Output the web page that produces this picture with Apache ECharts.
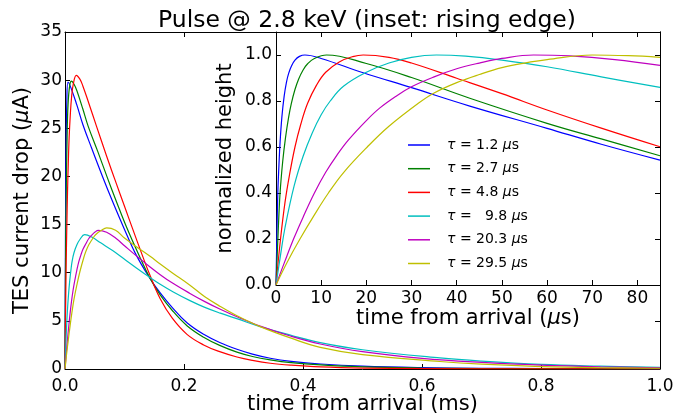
<!DOCTYPE html>
<html>
<head>
<meta charset="utf-8">
<script src="https://cdn.jsdelivr.net/npm/echarts@6/dist/echarts.min.js"></script>
<style>
  html, body { margin: 0; padding: 0; background: #fff; }
  #chart { width: 679px; height: 413px; }
</style>
</head>
<body>
<div id="chart"></div>
<script>
(function () {
  "use strict";

  // Series labels and matplotlib "classic" colours.
  var NAMES = ["τ = 1.2 μs", "τ = 2.7 μs", "τ = 4.8 μs", "τ =   9.8 μs", "τ = 20.3 μs", "τ = 29.5 μs"];
  var COLORS = ["#0000ff", "#008000", "#ff0000", "#00bfbf", "#bf00bf", "#bfbf00"];

  // Main panel: [time (ms), TES current drop (uA)].
  var mainBlue = [[0,0],[0.001,16.5],[0.002,24],[0.003,27.5],[0.005,29.8],[0.01,29.2],[0.02,27.4],[0.03,25.4],
    [0.045,22.9],[0.063,20],[0.08,17.4],[0.1,14.5],[0.12,11.8],[0.143,9.4],[0.16,7.9],[0.18,6.4],[0.205,4.8],
    [0.233,3.6],[0.26,2.75],[0.289,2.05],[0.315,1.55],[0.345,1.12],[0.38,0.8],[0.43,0.52],[0.5,0.3],[0.6,0.15],
    [0.7,0.08],[0.8,0.05],[0.9,0.03],[1.0,0.02]];
  var mainGreen = [[0,0],[0.001,12],[0.002,18],[0.0035,24],[0.005,27.3],[0.008,29.5],[0.011,29.9],[0.015,29.6],
    [0.02,28.9],[0.03,27.0],[0.039,25.2],[0.055,22.6],[0.071,19.9],[0.087,17.3],[0.103,14.8],[0.123,12.0],
    [0.143,9.4],[0.16,7.7],[0.18,6.1],[0.205,4.5],[0.233,3.3],[0.26,2.45],[0.289,1.75],[0.315,1.3],
    [0.345,0.95],[0.38,0.66],[0.43,0.42],[0.5,0.22],[0.6,0.1],[0.7,0.05],[0.8,0.03],[1.0,0.01]];
  var mainRed = [[0,0],[0.001,6.1],[0.002,11],[0.003,14.6],[0.0042,18.3],[0.0055,21.3],[0.007,24.1],[0.009,26.5],
    [0.011,28.2],[0.014,29.6],[0.019,30.5],[0.025,30.1],[0.03,29.4],[0.04,27.6],[0.053,25.2],[0.07,22.1],
    [0.086,19.3],[0.1,16.9],[0.114,14.5],[0.13,11.8],[0.143,9.7],[0.16,7.3],[0.18,5.3],[0.205,3.6],
    [0.233,2.5],[0.26,1.8],[0.289,1.25],[0.315,0.9],[0.345,0.6],[0.38,0.4],[0.43,0.22],[0.5,0.1],
    [0.6,0.04],[0.8,0.01],[1.0,0]];
  var mainCyan = [[0,0],[0.001,1.8],[0.002,3.5],[0.004,6.0],[0.006,7.8],[0.008,9.2],[0.01,10.3],[0.012,11.2],
    [0.015,12.05],[0.02,12.9],[0.025,13.45],[0.033,13.95],[0.045,13.7],[0.06,13.1],[0.08,12.3],[0.1,11.4],
    [0.12,10.5],[0.143,9.5],[0.16,8.8],[0.182,8.0],[0.21,7.1],[0.235,6.4],[0.261,5.8],[0.29,5.2],[0.328,4.4],
    [0.38,3.5],[0.429,2.74],[0.5,2.0],[0.63,1.15],[0.7,0.82],[0.8,0.48],[0.9,0.3],[1.0,0.17]];
  var mainMagenta = [[0,0],[0.002,1.5],[0.004,2.95],[0.006,4.25],[0.0085,5.75],[0.011,7.05],[0.0135,8.15],
    [0.016,9.05],[0.02,10.3],[0.023,11.1],[0.0265,11.8],[0.03,12.4],[0.035,13.0],[0.04,13.55],[0.045,13.9],
    [0.05,14.2],[0.056,14.4],[0.07,14.2],[0.085,13.6],[0.1,12.8],[0.12,11.75],[0.143,10.6],[0.16,9.8],
    [0.18,8.95],[0.21,7.85],[0.235,7.0],[0.261,6.2],[0.29,5.4],[0.328,4.45],[0.38,3.4],[0.429,2.6],
    [0.5,1.8],[0.6,1.1],[0.7,0.68],[0.8,0.4],[0.9,0.23],[1.0,0.13]];
  var mainYellow = [[0,0],[0.0025,1.45],[0.0053,2.9],[0.0085,4.45],[0.0116,5.85],[0.015,7.2],[0.0202,8.8],
    [0.025,10.1],[0.0315,11.55],[0.035,12.2],[0.04,12.9],[0.045,13.4],[0.05,13.85],[0.055,14.15],[0.06,14.35],
    [0.07,14.65],[0.085,14.4],[0.1,13.6],[0.12,12.7],[0.143,11.7],[0.16,10.9],[0.18,10.0],[0.21,8.7],
    [0.235,7.5],[0.261,6.5],[0.29,5.5],[0.328,4.4],[0.38,3.2],[0.429,2.25],[0.5,1.5],[0.63,0.78],[0.7,0.5],
    [0.8,0.25],[0.9,0.13],[1.0,0.08]];

  // Inset: [time (us), normalized height].
  var insetBlue = [[0,0],[0.2,0.22],[0.4,0.4],[0.65,0.52],[0.9,0.62],[1.3,0.73],[1.8,0.82],[2.3,0.88],
    [2.8,0.92],[3.5,0.955],[4.2,0.978],[5.2,0.994],[6.4,1.0],[10,0.985],[19.3,0.923],[30,0.858],
    [42.9,0.778],[60,0.681],[72,0.612],[85,0.543]];
  var insetGreen = [[0,0],[0.5,0.24],[0.9,0.4],[1.5,0.54],[2.1,0.64],[2.8,0.73],[3.4,0.79],[4.2,0.85],
    [5,0.895],[6,0.935],[7,0.962],[8.5,0.985],[11.2,1.0],[20,0.963],[30,0.902],[42.9,0.812],[60,0.703],
    [72,0.635],[85,0.562]];
  var insetRed = [[0,0],[1,0.2],[2,0.36],[3,0.48],[4.2,0.6],[5.5,0.7],[7,0.79],[9,0.87],[11,0.925],[14,0.97],
    [17,0.993],[19.3,1.0],[25,0.99],[30,0.965],[40,0.899],[50,0.832],[60,0.761],[72,0.682],[85,0.601]];
  var insetCyan = [[0,0],[1,0.13],[2,0.25],[4,0.43],[6,0.56],[8,0.66],[10,0.74],[12,0.8],[15,0.865],
    [20,0.925],[25,0.965],[30,0.99],[35.5,1.0],[42,0.995],[50,0.978],[60,0.949],[72,0.905],[85,0.859]];
  var insetMagenta = [[0,0],[2,0.105],[4,0.205],[6,0.295],[8.5,0.4],[11,0.49],[13.5,0.565],[16,0.63],
    [20,0.715],[23,0.77],[26.5,0.82],[30,0.862],[35,0.905],[40,0.94],[45,0.965],[50,0.985],[57,1.0],
    [65,0.996],[75,0.98],[85,0.955]];
  var insetYellow = [[0,0],[2.5,0.1],[5.3,0.2],[8.5,0.305],[11.6,0.4],[15,0.49],[20.2,0.6],[25,0.69],
    [31.5,0.79],[35,0.835],[40,0.88],[45,0.915],[50,0.945],[55,0.965],[60,0.98],[70,1.0],[78,0.997],[85,0.99]];

  var MAIN = [mainBlue, mainGreen, mainRed, mainCyan, mainMagenta, mainYellow];
  var INSET = [insetBlue, insetGreen, insetRed, insetCyan, insetMagenta, insetYellow];

  var FONT = "DejaVu Sans";
  var BLACK = "#000";

  // Boxed matplotlib-style axis: black spine, ticks pointing inwards.
  function frameAxis(extra) {
    var base = {
      nameMoveOverlap: false,
      axisLine: { show: true, onZero: false, lineStyle: { color: BLACK, width: 1 } },
      axisTick: { show: true, inside: true, length: 5, lineStyle: { color: BLACK } },
      axisLabel: { show: false },
      splitLine: { show: false }
    };
    for (var k in extra) base[k] = extra[k];
    return base;
  }

  var nameStyle = { color: BLACK, fontFamily: FONT, fontSize: 21,
                    rich: { g: { fontFamily: FONT, fontSize: 21, fontStyle: "italic", color: BLACK } } };

  var series = [];
  MAIN.forEach(function (d, i) {
    series.push({
      name: NAMES[i], type: "line", xAxisIndex: 0, yAxisIndex: 0, data: d,
      symbol: "none", smooth: 0.4,
      lineStyle: { color: COLORS[i], width: 1.2 }, itemStyle: { color: COLORS[i] }
    });
  });
  INSET.forEach(function (d, i) {
    series.push({
      name: NAMES[i], type: "line", xAxisIndex: 2, yAxisIndex: 2, data: d, zlevel: 1,
      symbol: "none", smooth: 0.4,
      lineStyle: { color: COLORS[i], width: 1.2 }, itemStyle: { color: COLORS[i] }
    });
  });

  var chart = echarts.init(document.getElementById("chart"), null, { renderer: "canvas" });
  chart.setOption({
    animation: false,
    backgroundColor: "#fff",
    title: {
      text: "Pulse @ 2.8 keV (inset: rising edge)",
      left: 362, top: 4, textAlign: "center",
      textStyle: { color: BLACK, fontFamily: FONT, fontSize: 23.5, fontWeight: "normal" }
    },
    legend: {
      data: NAMES, orient: "vertical", left: 408, top: 137, zlevel: 1, padding: 0,
      icon: "rect", itemWidth: 22, itemHeight: 1.5, itemGap: 7.7,
      textStyle: {
        color: BLACK, fontFamily: FONT, fontSize: 14, lineHeight: 16, padding: [0, 0, 0, 12],
        rich: { g: { fontFamily: FONT, fontSize: 14, fontStyle: "italic", color: BLACK } }
      },
      formatter: function (n) { return n.replace("τ", "{g|τ}").replace("μ", "{g|μ}"); }
    },
    grid: [
      { left: 65, top: 32, width: 595, height: 337, outerBoundsMode: "none" },
      { left: 276, top: 32, width: 384, height: 253, show: true, backgroundColor: "#fff",
        borderWidth: 0, zlevel: 1, outerBoundsMode: "none" }
    ],
    xAxis: [
      frameAxis({ type: "value", gridIndex: 0, position: "bottom", min: 0, max: 1, interval: 0.2,
        name: "time from arrival (ms)", nameLocation: "middle", nameGap: 25, nameTextStyle: nameStyle,
        axisLabel: { show: true, margin: 9, formatter: function (v) { return v.toFixed(1); },
          color: BLACK, fontFamily: FONT, fontSize: 17 } }),
      frameAxis({ type: "value", gridIndex: 0, position: "top", min: 0, max: 1, interval: 0.2 }),
      frameAxis({ type: "value", gridIndex: 1, position: "bottom", min: 0, max: 85, interval: 10, zlevel: 1,
        name: "time from arrival ({g|μ}s)", nameLocation: "middle", nameGap: 23, nameTextStyle: nameStyle,
        axisLabel: { show: true, margin: 5, showMaxLabel: false,
          color: BLACK, fontFamily: FONT, fontSize: 17 } }),
      frameAxis({ type: "value", gridIndex: 1, position: "top", min: 0, max: 85, interval: 10, zlevel: 1 })
    ],
    yAxis: [
      frameAxis({ type: "value", gridIndex: 0, position: "left", min: 0, max: 35, interval: 5,
        name: "TES current drop ({g|μ}A)", nameLocation: "middle", nameGap: 32, nameTextStyle: nameStyle,
        axisLabel: { show: true, margin: 3, color: BLACK, fontFamily: FONT, fontSize: 17 } }),
      frameAxis({ type: "value", gridIndex: 0, position: "right", min: 0, max: 35, interval: 5 }),
      frameAxis({ type: "value", gridIndex: 1, position: "left", min: 0, max: 1.1, interval: 0.2, zlevel: 1,
        name: "normalized height", nameLocation: "middle", nameGap: 39.5, nameTextStyle: nameStyle,
        axisLabel: { show: true, margin: 4, showMaxLabel: false,
          formatter: function (v) { return v.toFixed(1); },
          color: BLACK, fontFamily: FONT, fontSize: 17 } }),
      frameAxis({ type: "value", gridIndex: 1, position: "right", min: 0, max: 1.1, interval: 0.2, zlevel: 1 })
    ],
    series: series
  });

  window.addEventListener("resize", function () { chart.resize(); });
})();
</script>
</body>
</html>
